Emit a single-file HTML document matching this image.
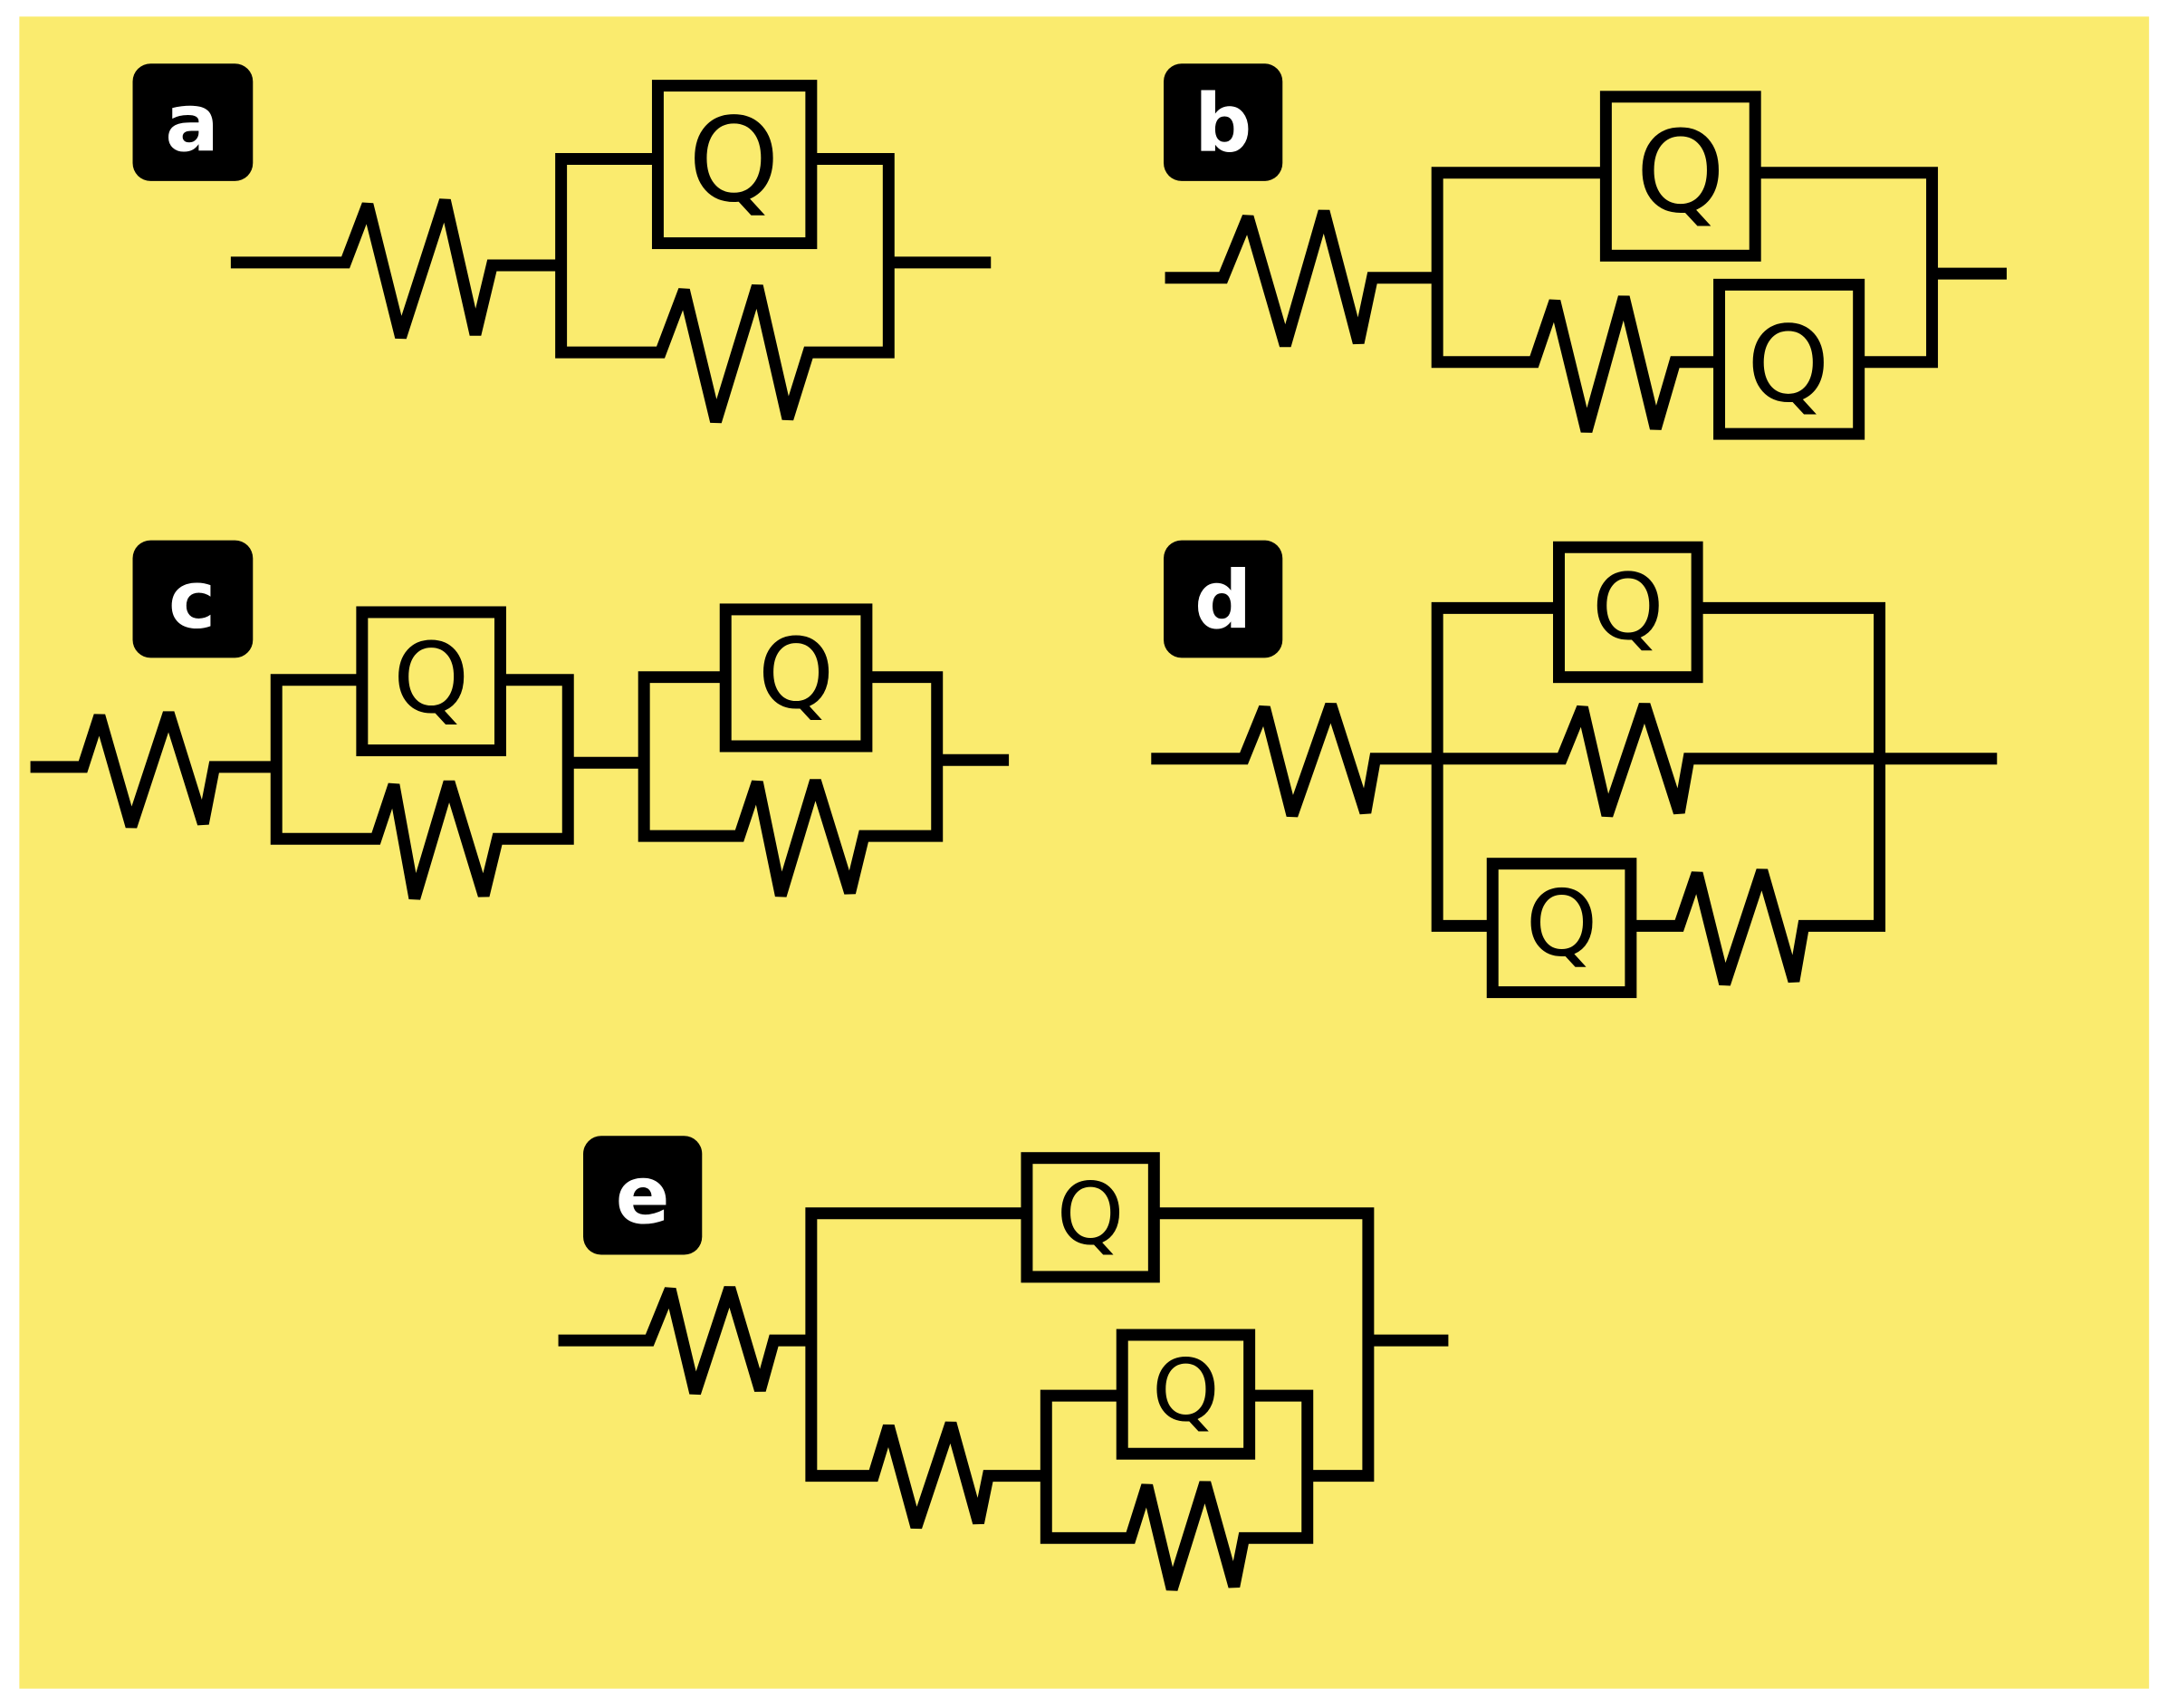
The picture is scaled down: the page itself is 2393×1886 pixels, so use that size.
<!DOCTYPE html>
<html><head><meta charset="utf-8"><style>
html,body{margin:0;padding:0;background:#fff;}
svg{display:block;}
</style></head><body>
<svg width="2393" height="1886" viewBox="0 0 1568 1236" preserveAspectRatio="none" xmlns="http://www.w3.org/2000/svg">
<rect x="0" y="0" width="1568" height="1236" fill="#fff"/>
<rect x="14" y="12" width="1541" height="1210" fill="#FAEB6E"/>
<g fill="none" stroke="#000" stroke-width="8.5" stroke-linejoin="miter" stroke-miterlimit="3" stroke-linecap="butt">
<polyline points="167,190 250,190 266,148 290,244 322,145 344,242 356,192 406,192"/>
<polyline points="476,115 406,115 406,255 478,255 495,210 518,305 548,207 570,303 585,255 643,255 643,115 587,115"/>
<rect x="476" y="62" width="111" height="114"/>
<line x1="643" y1="190" x2="717" y2="190"/>
<polyline points="843,201 885,201 903,157 930,250 958,153 983,248 993,201 1040,201"/>
<polyline points="1162,125 1040,125 1040,262 1110,262 1125,218 1148,312 1175,215 1198,310 1212,262 1244,262"/>
<polyline points="1270,125 1398,125 1398,262 1345,262"/>
<rect x="1162" y="70" width="108" height="115"/>
<rect x="1244" y="206" width="101" height="108"/>
<line x1="1398" y1="198" x2="1452" y2="198"/>
<polyline points="22,555 60,555 72,518 95,598 122,516 147,596 155,555 200,555"/>
<polyline points="262,492 200,492 200,607 272,607 285,568 300,650 325,566 350,648 360,607 411,607 411,492 362,492"/>
<rect x="262" y="443" width="100" height="100"/>
<line x1="411" y1="552" x2="466" y2="552"/>
<polyline points="525,490 466,490 466,605 535,605 548,566 565,648 590,565 615,646 625,605 678,605 678,490 627,490"/>
<rect x="525" y="441" width="102" height="99"/>
<line x1="678" y1="550" x2="730" y2="550"/>
<polyline points="833,549 900,549 915,512 935,590 963,510 988,588 995,549 1040,549"/>
<polyline points="1128,440 1040,440 1040,670 1080,670"/>
<polyline points="1228,440 1360,440 1360,670 1305,670 1298,710 1275,630 1248,712 1228,632 1215,670 1180,670"/>
<polyline points="1040,549 1130,549 1145,512 1163,590 1190,510 1215,588 1222,549 1445,549"/>
<rect x="1128" y="396" width="100" height="94"/>
<rect x="1080" y="625" width="100" height="93"/>
<polyline points="404,970 470,970 485,933 503,1008 528,932 550,1006 560,970 587,970"/>
<polyline points="743,878 587,878 587,1068 632,1068 643,1032 663,1105 688,1030 708,1102 715,1068 757,1068"/>
<polyline points="835,878 990,878 990,1068 946,1068"/>
<rect x="743" y="838" width="92" height="86"/>
<line x1="990" y1="970" x2="1048" y2="970"/>
<polyline points="812,1010 757,1010 757,1113 818,1113 830,1075 848,1150 872,1073 893,1148 900,1113 946,1113 946,1010 904,1010"/>
<rect x="812" y="966" width="92" height="86"/>
</g>
<g font-family="DejaVu Sans, sans-serif" fill="#000" text-anchor="middle">
<text x="531" y="145" font-size="84">Q</text>
<text x="1216" y="153" font-size="82">Q</text>
<text x="1294" y="290" font-size="76">Q</text>
<text x="312" y="515" font-size="70">Q</text>
<text x="576" y="512" font-size="70">Q</text>
<text x="1178" y="462" font-size="66">Q</text>
<text x="1130" y="691" font-size="66">Q</text>
<text x="789" y="900" font-size="62">Q</text>
<text x="858" y="1028" font-size="62">Q</text>
</g>
<g fill="#000">
<rect x="96" y="46" width="87" height="85" rx="13"/>
<rect x="842" y="46" width="86" height="85" rx="13"/>
<rect x="96" y="391" width="87" height="85" rx="13"/>
<rect x="842" y="391" width="86" height="85" rx="13"/>
<rect x="422" y="822" width="86" height="86" rx="13"/>
</g>
<g font-family="DejaVu Sans, sans-serif" font-weight="bold" fill="#fff" text-anchor="middle" font-size="58">
<text x="139" y="109">a</text>
<text x="885" y="109">b</text>
<text x="139" y="454">c</text>
<text x="885" y="454">d</text>
<text x="465" y="885">e</text>
</g>
</svg>
</body></html>
